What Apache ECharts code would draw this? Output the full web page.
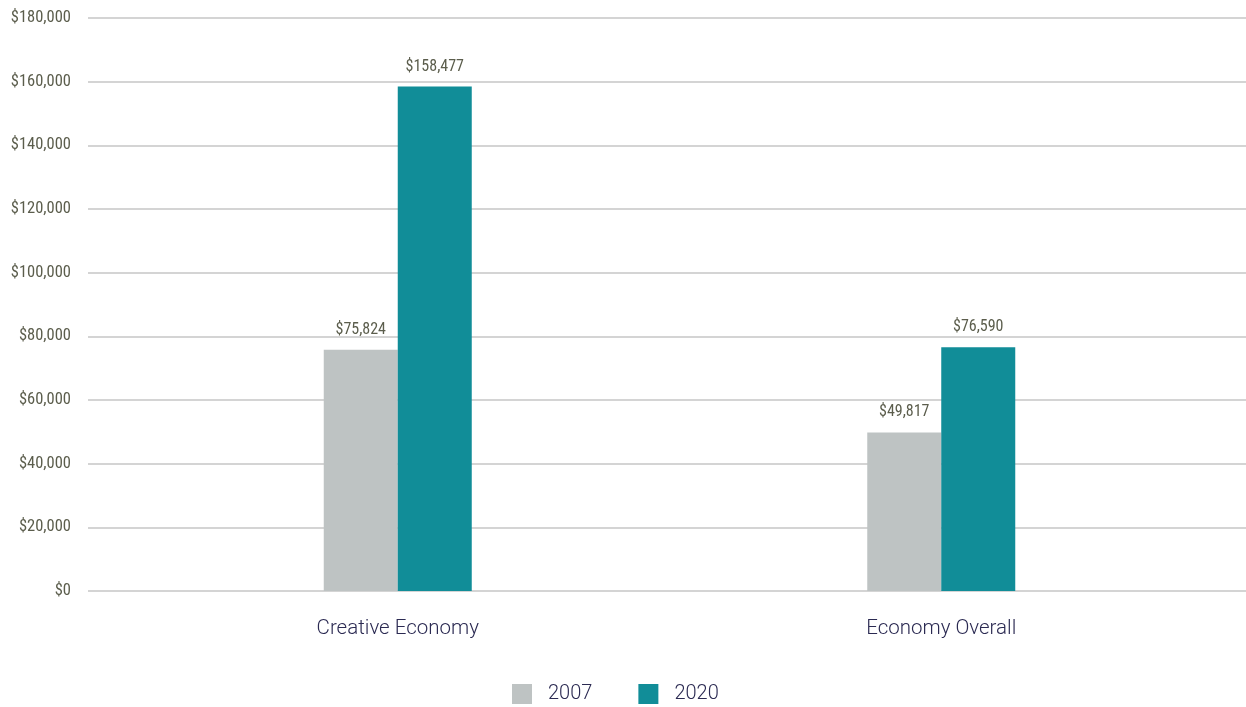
<!DOCTYPE html>
<html><head><meta charset="utf-8">
<script src="https://cdn.jsdelivr.net/npm/echarts@6/dist/echarts.min.js"></script>
<style>html,body{margin:0;padding:0;background:#fff}#c{width:1246px;height:707px}</style>
</head><body><div id="c"></div>
<script>
const categories = ['Creative Economy', 'Economy Overall'];
const seriesNames = ['2007', '2020'];
const values2007 = [75824, 49817];
const values2020 = [158477, 76590];
const yMin = 0, yMax = 180000, yInterval = 20000;

const condensed = '"Roboto Condensed","Liberation Sans Narrow",Roboto,sans-serif';
const fmt = v => '$' + Number(v).toLocaleString('en-US');
const chart = echarts.init(document.getElementById('c'));
chart.setOption({
  animation: false,
  grid: [
    {left: 88, right: 0, top: 18, bottom: 116, containLabel: false},
    {left: 126, right: 33, top: 18, bottom: 116, containLabel: false}
  ],
  legend: {
    top: 679, left: 507, itemWidth: 20, itemHeight: 20, itemGap: 46,
    icon: 'rect',
    textStyle: {fontFamily: 'Roboto', fontWeight: 300, fontSize: 20, color: '#2b2a52', padding: [0,0,0,11]},
    data: seriesNames
  },
  xAxis: [
    {gridIndex: 0, type: 'category', data: categories, show: false},
    {gridIndex: 1, type: 'category', data: categories,
     axisLine: {show: false}, axisTick: {show: false},
     axisLabel: {margin: 27, fontFamily: 'Roboto', fontWeight: 300, fontSize: 20.5, color: '#2b2a52'}}
  ],
  yAxis: [
    {gridIndex: 0, type: 'value', min: yMin, max: yMax, interval: yInterval,
     axisLine: {show: false}, axisTick: {show: false},
     axisLabel: {formatter: fmt, margin: 17, fontFamily: condensed, fontSize: 16.5, color: '#5b5d4c'},
     splitLine: {lineStyle: {color: '#c6c6c6', width: 1.5}}},
    {gridIndex: 1, type: 'value', min: yMin, max: yMax, interval: yInterval, show: false, splitLine: {show: false}}
  ],
  series: [
    {name: seriesNames[0], type: 'bar', xAxisIndex: 1, yAxisIndex: 1, data: values2007,
     barWidth: 74, barGap: '0%', itemStyle: {color: '#bec3c3'},
     label: {show: true, position: 'top', distance: 12, formatter: p => fmt(p.value), fontFamily: condensed, fontSize: 16, color: '#5b5d4c'}},
    {name: seriesNames[1], type: 'bar', xAxisIndex: 1, yAxisIndex: 1, data: values2020,
     barWidth: 74, barGap: '0%', itemStyle: {color: '#118d98'},
     label: {show: true, position: 'top', distance: 12, formatter: p => fmt(p.value), fontFamily: condensed, fontSize: 16, color: '#5b5d4c'}}
  ]
});
</script></body></html>
